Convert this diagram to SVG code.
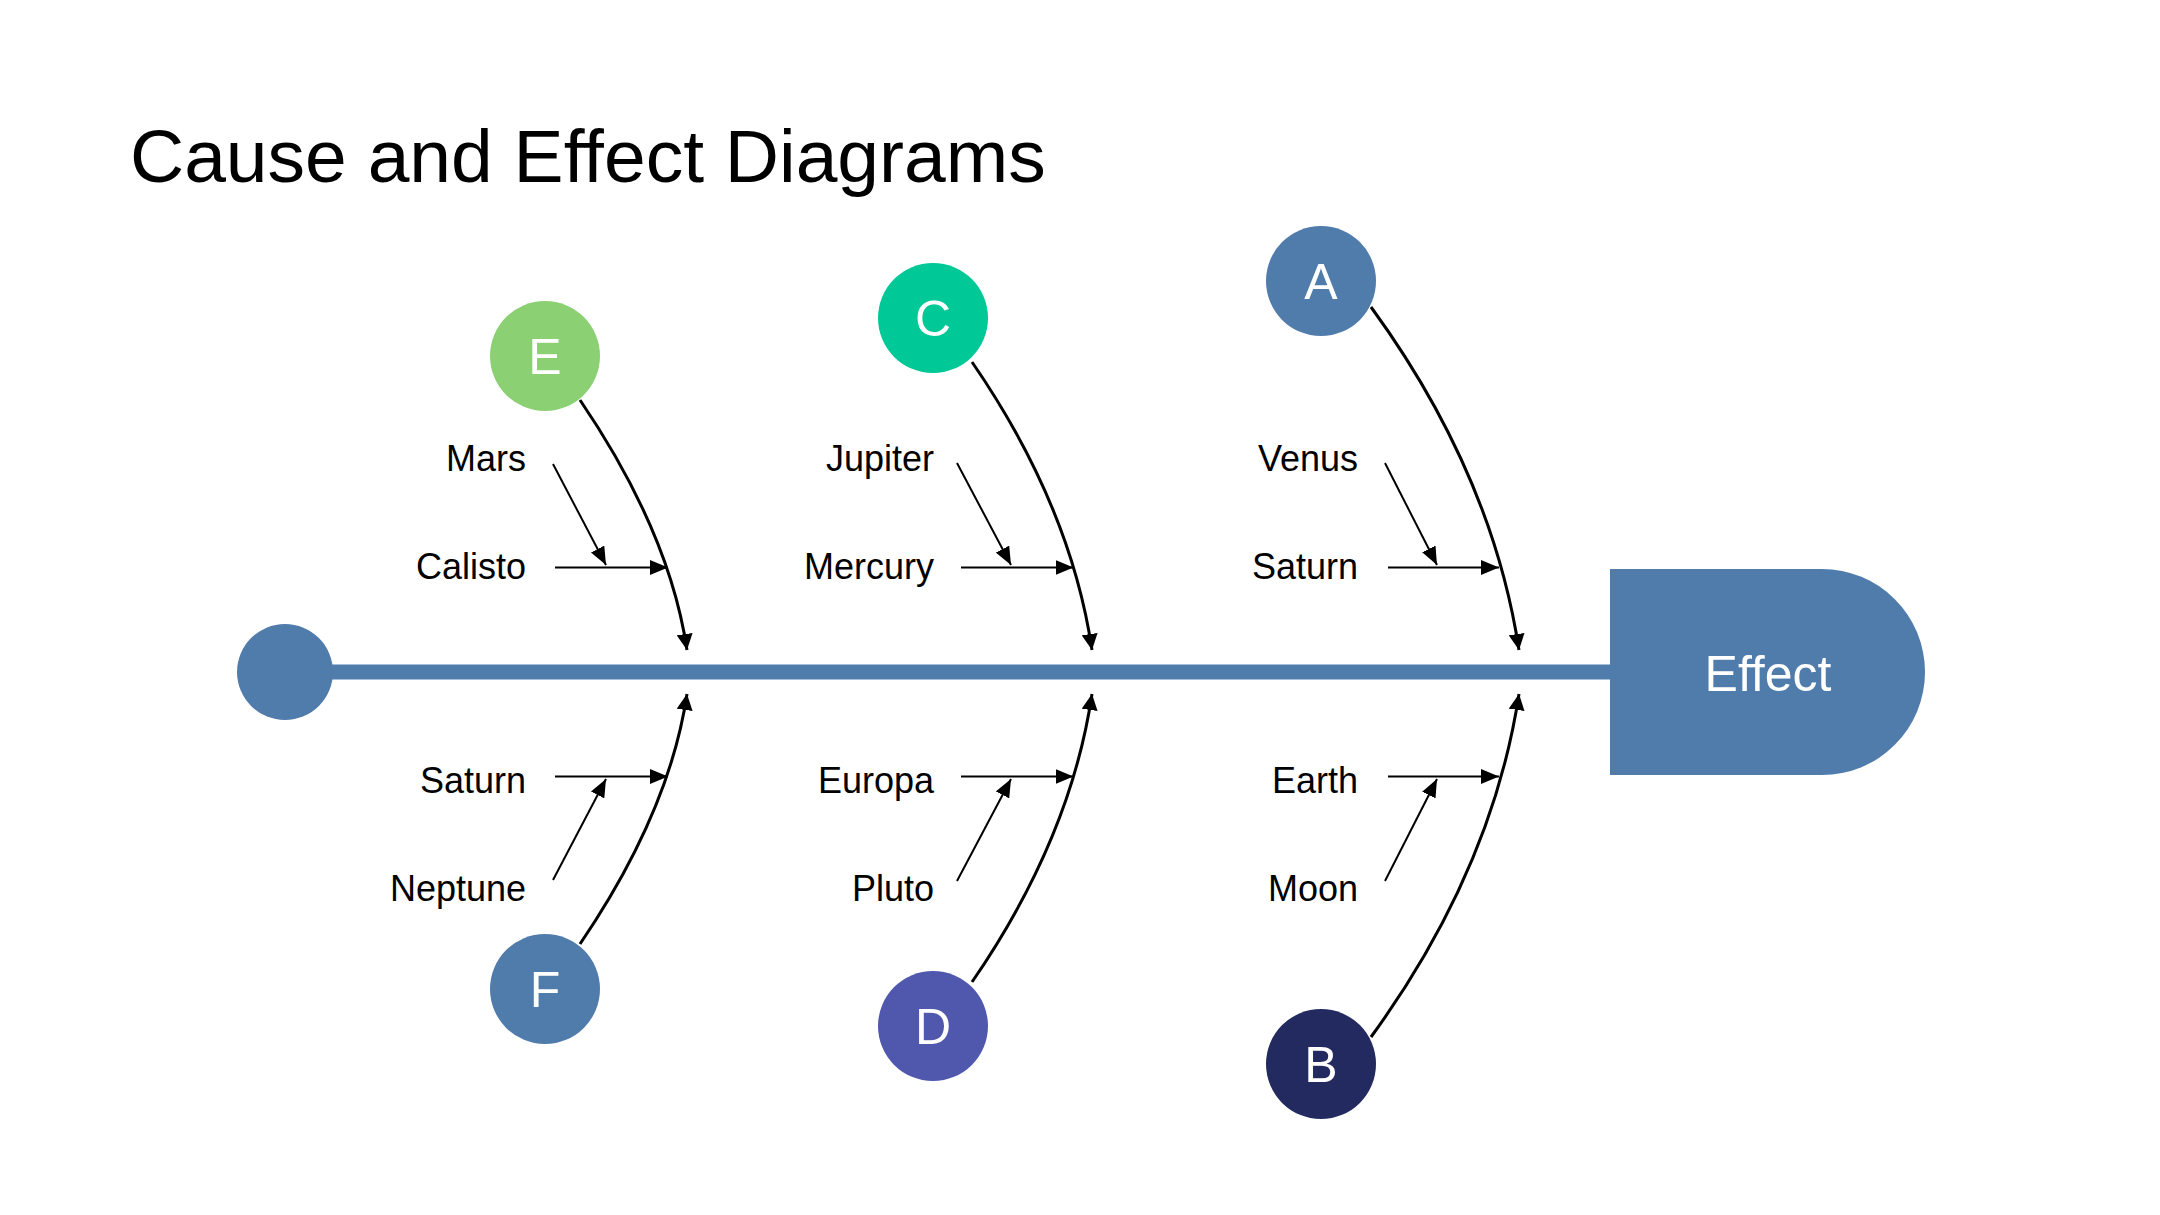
<svg xmlns="http://www.w3.org/2000/svg" width="2160" height="1215" viewBox="0 0 2160 1215">
<defs>
<marker id="ahBig" markerUnits="userSpaceOnUse" markerWidth="16" markerHeight="16" viewBox="0 0 16 16" refX="16" refY="8" orient="auto"><path d="M0,0 L16,8 L0,16 Z" fill="#000"/></marker>
<marker id="ahSm" markerUnits="userSpaceOnUse" markerWidth="18" markerHeight="15" viewBox="0 0 18 15" refX="18" refY="7.5" orient="auto"><path d="M0,0 L18,7.5 L0,15 Z" fill="#000"/></marker>
</defs>
<style>
text{font-family:"Liberation Sans",Arial,sans-serif;}
.lbl{font-size:36px;fill:#000;text-anchor:end;}
.ltr{font-size:50px;fill:#fff;text-anchor:middle;}
.big{stroke:#000;stroke-width:3;fill:none;marker-end:url(#ahBig);}
.sm{stroke:#000;stroke-width:2;fill:none;marker-end:url(#ahSm);}
.blue{fill:#507CAC;}
</style>
<rect width="2160" height="1215" fill="#fff"/>
<text x="130" y="182" font-size="75" fill="#000">Cause and Effect Diagrams</text>

<g id="spine">
<rect class="blue" x="285" y="664.5" width="1330" height="15"/>
<circle class="blue" cx="285" cy="672" r="48"/>
</g>
<g id="effect">
<path class="blue" d="M1610,569 H1822 A103,103 0 0 1 1822,775 H1610 Z"/>
<text x="1768" y="691" font-size="50" fill="#fff" text-anchor="middle">Effect</text>
</g>

<g id="connectors">
<path class="big" d="M580,400 Q669.4,531.4 687,650"/>
<path class="big" d="M972,362 Q1070.5,505 1092,650"/>
<path class="big" d="M1371,307 Q1492,473 1519,650"/>
<path class="big" d="M580,944 Q669.4,812.6 687,694"/>
<path class="big" d="M972,982 Q1070.5,839 1092,694"/>
<path class="big" d="M1371,1037 Q1492,871 1519,694"/>

<path class="sm" d="M555,567.5 H668"/>
<path class="sm" d="M553,464 L606,565"/>
<path class="sm" d="M961,567.5 H1073.5"/>
<path class="sm" d="M957,463 L1011,565"/>
<path class="sm" d="M1388,567.5 H1499"/>
<path class="sm" d="M1385,463 L1437,565"/>

<path class="sm" d="M555,776.5 H668"/>
<path class="sm" d="M553,880 L606,779"/>
<path class="sm" d="M961,776.5 H1073.5"/>
<path class="sm" d="M957,881 L1011,779"/>
<path class="sm" d="M1388,776.5 H1499"/>
<path class="sm" d="M1385,881 L1437,779"/>
</g>

<g id="node-E"><circle cx="545" cy="356" r="55" fill="#8CD074"/><text class="ltr" x="545" y="374">E</text></g>
<g id="node-C"><circle cx="933" cy="318" r="55" fill="#00C896"/><text class="ltr" x="933" y="336">C</text></g>
<g id="node-A"><circle cx="1321" cy="281" r="55" fill="#507CAC"/><text class="ltr" x="1321" y="299">A</text></g>
<g id="node-F"><circle cx="545" cy="989" r="55" fill="#507CAC"/><text class="ltr" x="545" y="1007">F</text></g>
<g id="node-D"><circle cx="933" cy="1026" r="55" fill="#5058AE"/><text class="ltr" x="933" y="1044">D</text></g>
<g id="node-B"><circle cx="1321" cy="1064" r="55" fill="#232A60"/><text class="ltr" x="1321" y="1082">B</text></g>

<g id="labels">
<text class="lbl" x="526" y="471">Mars</text>
<text class="lbl" x="526" y="579">Calisto</text>
<text class="lbl" x="526" y="793">Saturn</text>
<text class="lbl" x="526" y="901">Neptune</text>
<text class="lbl" x="934" y="471">Jupiter</text>
<text class="lbl" x="934" y="579">Mercury</text>
<text class="lbl" x="934" y="793">Europa</text>
<text class="lbl" x="934" y="901">Pluto</text>
<text class="lbl" x="1358" y="471">Venus</text>
<text class="lbl" x="1358" y="579">Saturn</text>
<text class="lbl" x="1358" y="793">Earth</text>
<text class="lbl" x="1358" y="901">Moon</text>
</g>
</svg>
